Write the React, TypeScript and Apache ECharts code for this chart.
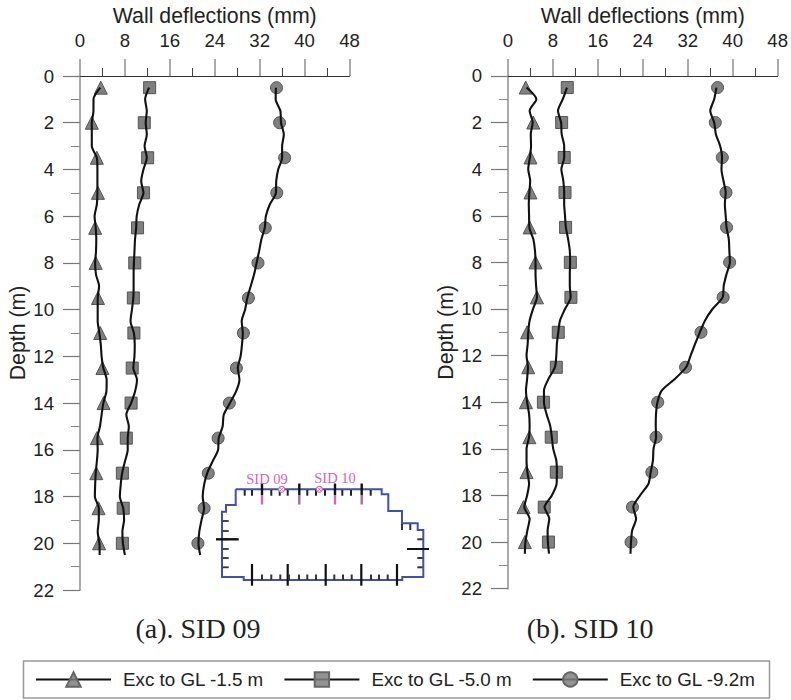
import React, { useEffect, useRef } from "react";
import * as echarts from "echarts";

const lineDepths = [0.5,1,1.5,2,2.5,3,3.5,4,4.5,5,5.5,6,6.5,7,7.5,8,8.5,9,9.5,10,10.5,11,11.5,12,12.5,13,13.5,14,14.5,15,15.5,16,16.5,17,17.5,18,18.5,19,19.5,20,20.5];
const markerDepths = [0.5,2,3.5,5,6.5,8,9.5,11,12.5,14,15.5,17,18.5,20];
const seriesNames = ["Exc to GL -1.5 m", "Exc to GL -5.0 m", "Exc to GL -9.2m"];
const xTicks = { min: 0, max: 48, interval: 8 };
const yTicks = { min: 0, max: 22, interval: 2 };
const captions = ["(a). SID 09", "(b). SID 10"];

const sid09LineA = [3.6,2.4,2.4,2.1,2.1,2.1,3.0,3.1,3.1,3.1,3.0,2.6,2.8,2.9,2.85,2.7,2.85,3.4,3.15,3.15,3.15,3.45,3.7,3.85,4.15,4.75,4.7,4.15,3.85,3.55,3.1,3.15,3.0,2.8,2.7,2.65,3.35,3.35,3.15,3.45,3.5];
const sid09LineB = [12.3,11.6,11.9,11.7,11.9,11.5,11.9,11.3,10.9,11.3,10.55,10.1,10.0,9.8,9.7,9.6,9.55,9.55,9.5,9.25,9.0,9.6,9.75,9.7,9.5,10.15,9.8,9.1,8.25,8.7,8.5,8.5,8.0,7.5,7.25,7.1,7.7,7.85,7.55,7.65,8.0];
const sid09LineC = [34.9,34.85,35.7,35.8,36.3,36,36,35.3,34.95,34.9,33.8,33.1,32.9,32.3,31.9,31.45,31.0,30.4,29.8,29.4,28.8,29,28.85,28.6,28.1,28.4,27.8,26.7,25.6,25.4,24.7,24.6,23.6,22.65,22.1,21.85,22.1,21.65,21.25,21.1,21.4];
const sid09MarkA = [3.7,2.1,3.0,3.2,2.7,2.8,3.2,3.6,4.0,4.2,3.0,2.9,3.3,3.4];
const sid09MarkB = [12.4,11.45,12.05,11.3,10.25,9.75,9.5,9.6,9.3,9.1,8.25,7.55,7.7,7.55];
const sid09MarkC = [35.0,35.55,36.45,35.05,33,31.7,30.0,29.1,27.85,26.6,24.6,22.85,22.1,21.0];

const sid10LineA = [3.3,5.05,3.85,4.4,4.05,4.1,3.9,3.6,3.95,3.8,3.7,3.75,3.8,4.5,4.8,4.9,4.9,5,5.15,4.45,3.85,3.6,3.5,3.3,3.55,3.4,3.2,3.4,3.75,3.85,3.75,3.3,3.3,3.45,3.75,3.4,2.9,3.85,3.45,3.1,3.0];
const sid10LineB = [10.5,9.75,8.9,9.45,9.55,10,10,9.5,9.85,10,10,10.15,10.3,10.7,11,11.05,11,11,11.15,10.15,9.25,8.95,8.7,8.6,8.35,7.2,6.4,6.4,6.85,7.5,7.8,8.05,8.6,8.7,8.65,7.8,6.5,7.35,7.05,7.1,7.3];
const sid10LineC = [37.1,36.7,36,36.7,37,37.75,38.1,38,38.35,38.75,38.6,38.75,38.9,39.3,39.4,39.5,38.9,38.4,38.2,36.4,35.05,34.15,33.3,32.5,31.7,29.7,27.35,26.6,26.35,26.3,26.35,25.9,25.8,25.4,25,23.5,22.3,22.8,22.1,21.9,21.8];
const sid10MarkA = [3.15,4.5,4.0,4.0,3.85,4.9,5.15,3.4,3.6,3.2,3.8,3.3,2.75,3.0];
const sid10MarkB = [10.55,9.55,10,10.15,10.25,11.1,11.2,8.95,8.6,6.3,7.7,8.6,6.45,7.2];
const sid10MarkC = [37.3,36.9,38.15,38.8,38.9,39.45,38.3,34.35,31.6,26.65,26.35,25.6,22.15,21.9];

const panels = [
  { lines: [sid09LineA, sid09LineB, sid09LineC], marks: [sid09MarkA, sid09MarkB, sid09MarkC] },
  { lines: [sid10LineA, sid10LineB, sid10LineC], marks: [sid10MarkA, sid10MarkB, sid10MarkC] },
];
const symbols = ["triangle", "rect", "circle"];

const FONT = "Liberation Sans";
const BLUE = "#3f50ad";
const PINK = "#d862bd";

function seg(x1: number, y1: number, x2: number, y2: number, stroke: string, lineWidth: number) {
  return { type: "line", silent: true, z: 5, shape: { x1, y1, x2, y2 }, style: { stroke, lineWidth } };
}

function insetGraphics() {
  const outline = [[235.7,489.3],[381.7,489.3],[381.7,494.3],[388.3,494.3],[388.3,511],[402,511],[402,523.3],[417.7,523.3],[417.7,530],[423.3,530],[423.3,577],[402.3,577],[402.3,580],[243.7,580],[243.7,577],[222,577],[222,511.7],[226,511.7],[226,505],[235.7,505],[235.7,489.3]];
  const out: any[] = [];
  out.push({ type: "polyline", silent: true, z: 5, shape: { points: outline }, style: { stroke: BLUE, lineWidth: 2, fill: "none" } });
  [262, 299.3, 335, 361.7].forEach((x, i) => {
    out.push(seg(x, 483.5, x, 495, "#111", 2.4));
    out.push(seg(x, 495, x, 504.5, i % 2 ? "#a0709a" : PINK, 2.4));
  });
  [244.7, 252, 271.3, 279.7, 287.7, 307.3, 316, 325, 342.3, 351, 370.7].forEach((x) => out.push(seg(x, 490, x, 495.7, "#222", 2)));
  [521, 531, 539.3, 549, 558, 567.3].forEach((y) => out.push(seg(222.7, y, 228.7, y, "#333", 1.8)));
  out.push(seg(216, 539.3, 238.7, 539.3, "#111", 2.4));
  [539.3, 558, 567.3].forEach((y) => out.push(seg(417.3, y, 422.7, y, "#333", 2)));
  out.push(seg(407, 549, 429, 549, "#111", 2));
  [402, 410.3].forEach((x) => out.push(seg(x, 524, x, 530, "#333", 2)));
  [252, 287.7, 325.7, 361.3, 397].forEach((x) => out.push(seg(x, 564, x, 585.7, "#111", 2.2)));
  [262, 271.3, 280.3, 289, 299, 307.3, 316, 334.3, 343, 351.7, 371, 379, 387.7].forEach((x) => out.push(seg(x, 574.5, x, 580, "#333", 2)));
  [[281.7, 489.3], [319.3, 489.3]].forEach(([cx, cy]) => {
    out.push({ type: "circle", silent: true, z: 6, shape: { cx, cy, r: 3 }, style: { stroke: PINK, lineWidth: 1.1, fill: "#fff" } });
    out.push({ ...seg(cx - 2, cy - 2, cx + 2, cy + 2, PINK, 0.9), z: 7 });
    out.push({ ...seg(cx - 2, cy + 2, cx + 2, cy - 2, PINK, 0.9), z: 7 });
  });
  out.push({ type: "text", silent: true, z: 6, x: 267, y: 479, style: { text: "SID 09", fontFamily: "Liberation Serif", fontSize: 14.5, fill: PINK, align: "center", verticalAlign: "middle" } });
  out.push({ type: "text", silent: true, z: 6, x: 335, y: 478, style: { text: "SID 10", fontFamily: "Liberation Serif", fontSize: 14.5, fill: PINK, align: "center", verticalAlign: "middle" } });
  return out;
}

function buildOption() {
  const plotBoxes = [
    { left: 80, width: 269.5, top: 76, height: 514 },
    { left: 508, width: 269.7, top: 75, height: 513.7 },
  ];
  const nameStyle = { fontFamily: FONT, fontSize: 21.3, color: "#222" };
  const labelStyle = { fontFamily: FONT, fontSize: 18.6, color: "#222" };

  const xAxis = plotBoxes.map((_, i) => ({
    type: "value", gridIndex: i, position: "top", ...xTicks,
    name: "Wall deflections (mm)", nameLocation: "middle", nameGap: 46, nameTextStyle: nameStyle,
    axisLine: { show: true, onZero: false, lineStyle: { color: "#333", width: 1 } },
    axisTick: { show: true, length: 17, lineStyle: { color: "#aaa", width: 2 } },
    minorTick: { show: true, splitNumber: 2, length: 8, lineStyle: { color: "#444", width: 1 } },
    splitLine: { show: false }, minorSplitLine: { show: false },
    axisLabel: { margin: 26, ...labelStyle, hideOverlap: false },
  }));
  const yAxis = plotBoxes.map((_, i) => ({
    type: "value", gridIndex: i, inverse: true, ...yTicks,
    name: "Depth (m)", nameLocation: "middle", nameGap: 52, nameRotate: 90, nameTextStyle: nameStyle,
    axisLine: { show: true, onZero: false, lineStyle: { color: "#aaa", width: 2 } },
    axisTick: { show: true, length: 17, lineStyle: { color: "#777", width: 1.2 } },
    minorTick: { show: true, splitNumber: 2, length: 9, lineStyle: { color: "#888", width: 1 } },
    splitLine: { show: false }, minorSplitLine: { show: false },
    axisLabel: { margin: 26, ...labelStyle, hideOverlap: false },
  }));

  const series: any[] = [];
  // Legend-only entries: an empty line series gives the line-plus-symbol key.
  seriesNames.forEach((name, k) => {
    series.push({
      type: "line", name, data: [], xAxisIndex: 0, yAxisIndex: 0, symbol: symbols[k],
      lineStyle: { color: "#111", width: 2 },
      itemStyle: { color: "rgba(128,128,128,0.85)", borderColor: "#666", borderWidth: 1 },
    });
  });
  panels.forEach((panel, i) => {
    panel.marks.forEach((vals, k) => {
      series.push({
        type: "scatter", name: `${seriesNames[k]} (${captions[i]}) readings`, xAxisIndex: i, yAxisIndex: i, z: 2,
        symbol: symbols[k], symbolSize: k === 0 ? 13 : 12,
        itemStyle: { color: "#808080", borderColor: "#555", borderWidth: 1, opacity: 1 },
        data: vals.map((v, j) => [v, markerDepths[j]]),
      });
    });
    panel.lines.forEach((vals, k) => {
      series.push({
        type: "line", name: `${seriesNames[k]} (${captions[i]}) profile`, xAxisIndex: i, yAxisIndex: i, z: 3,
        showSymbol: false, symbol: "none", smooth: 0.25,
        lineStyle: { color: "#111", width: 2.1 },
        data: vals.map((v, j) => [v, lineDepths[j]]),
      });
    });
  });

  const captionGraphics = [198, 590].map((x, i) => ({
    type: "text", silent: true, x, y: 628,
    style: { text: captions[i], fontFamily: "Liberation Serif", fontSize: 28, fill: "#222", align: "center", verticalAlign: "middle" },
  }));

  return {
    animation: false,
    backgroundColor: "#fff",
    grid: plotBoxes.map((b) => ({ ...b, containLabel: false })),
    xAxis, yAxis, series,
    legend: {
      data: seriesNames, left: 23.5, top: 661, orient: "horizontal",
      itemWidth: 75, itemHeight: 18, itemGap: 19.5,
      padding: [9, 14, 9, 11.5],
      backgroundColor: "#fff", borderColor: "#999", borderWidth: 1.5,
      textStyle: { fontFamily: FONT, fontSize: 18.8, color: "#222", padding: [0, 0, 0, 7] },
      selectedMode: false,
    },
    graphic: [...captionGraphics, ...insetGraphics()],
  };
}

export default function App() {
  const ref = useRef<HTMLDivElement>(null);
  useEffect(() => {
    const chart = echarts.init(ref.current!, undefined, { renderer: "svg" });
    chart.setOption(buildOption() as any);
    return () => chart.dispose();
  }, []);
  return <div ref={ref} style={{ position: "absolute", left: 0, top: 0, width: 791, height: 700 }} />;
}
